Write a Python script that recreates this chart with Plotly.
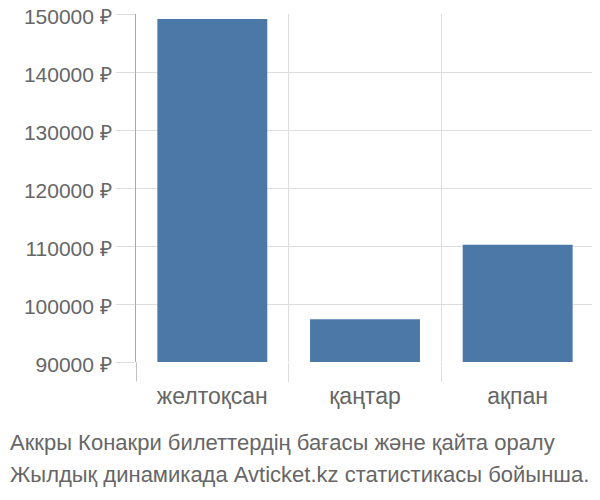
import plotly.graph_objects as go

categories = ["желтоқсан", "қаңтар", "ақпан"]
prices = [149130, 97360, 110200]
y_ticks = [90000, 100000, 110000, 120000, 130000, 140000, 150000]
y_tick_labels = [f"{v} ₽" for v in y_ticks]
title_lines = ["Аккры Конакри билеттердің бағасы және қайта оралу",
               "Жылдық динамикада Avticket.kz статистикасы бойынша."]

FONT = "Liberation Sans, Arial, sans-serif"
TXT = "#666666"
GRID = "#dddddd"

# page is offset by the body's default 8px margin
OFF = 8
PL, PR, PT, PB = 136, 594, 14, 362   # plot area in page pixels
W, H = 600, 500
PW, PH = PR - PL, PB - PT


def px_x(x):
    return (x - PL) / PW


def px_y(y):
    return (PB - y) / PH


fig = go.Figure(go.Bar(
    x=categories, y=prices,
    marker=dict(color="#4c78a8", line=dict(width=0)),
    width=0.72,
))

annotations = []
for i, line in enumerate(title_lines):
    annotations.append(dict(
        text=line, xref="paper", yref="paper",
        x=px_x(OFF), y=px_y(428 + 32 * i),
        xanchor="left", yanchor="top", showarrow=False,
        font=dict(family=FONT, size=22, color=TXT),
    ))

fig.update_layout(
    width=W, height=H,
    margin=dict(l=PL - OFF, r=W - (PL - OFF) - PW, t=PT - OFF,
                b=H - (PB - OFF), pad=0),
    paper_bgcolor="white", plot_bgcolor="white",
    showlegend=False,
    font=dict(family=FONT, color=TXT, size=20),
    annotations=annotations,
    xaxis=dict(
        tickson="boundaries", ticks="outside", ticklen=19, tickcolor=GRID,
        tickwidth=1, ticklabelstandoff=18,
        showgrid=True, gridcolor=GRID, gridwidth=1,
        showline=False, zeroline=False, automargin=False,
        tickfont=dict(size=23, color=TXT),
        range=[-0.5, 2.5],
    ),
    yaxis=dict(
        range=[90000, 150000],
        tickvals=y_ticks, ticktext=y_tick_labels,
        ticks="outside", ticklen=19, tickcolor=GRID, tickwidth=1,
        ticklabeloverflow="allow", ticklabelshift=3,
        showgrid=True, gridcolor=GRID, gridwidth=1,
        showline=True, linecolor="#aaaaaa", linewidth=1,
        zeroline=False, automargin=False,
        tickfont=dict(size=21, color=TXT),
    ),
    shapes=[dict(type="line", xref="x", yref="paper", x0=-0.5, x1=-0.5,
                 y0=0, y1=-19 / PH, line=dict(color="#aaaaaa", width=1))],
)

fig.write_html("out.html")
